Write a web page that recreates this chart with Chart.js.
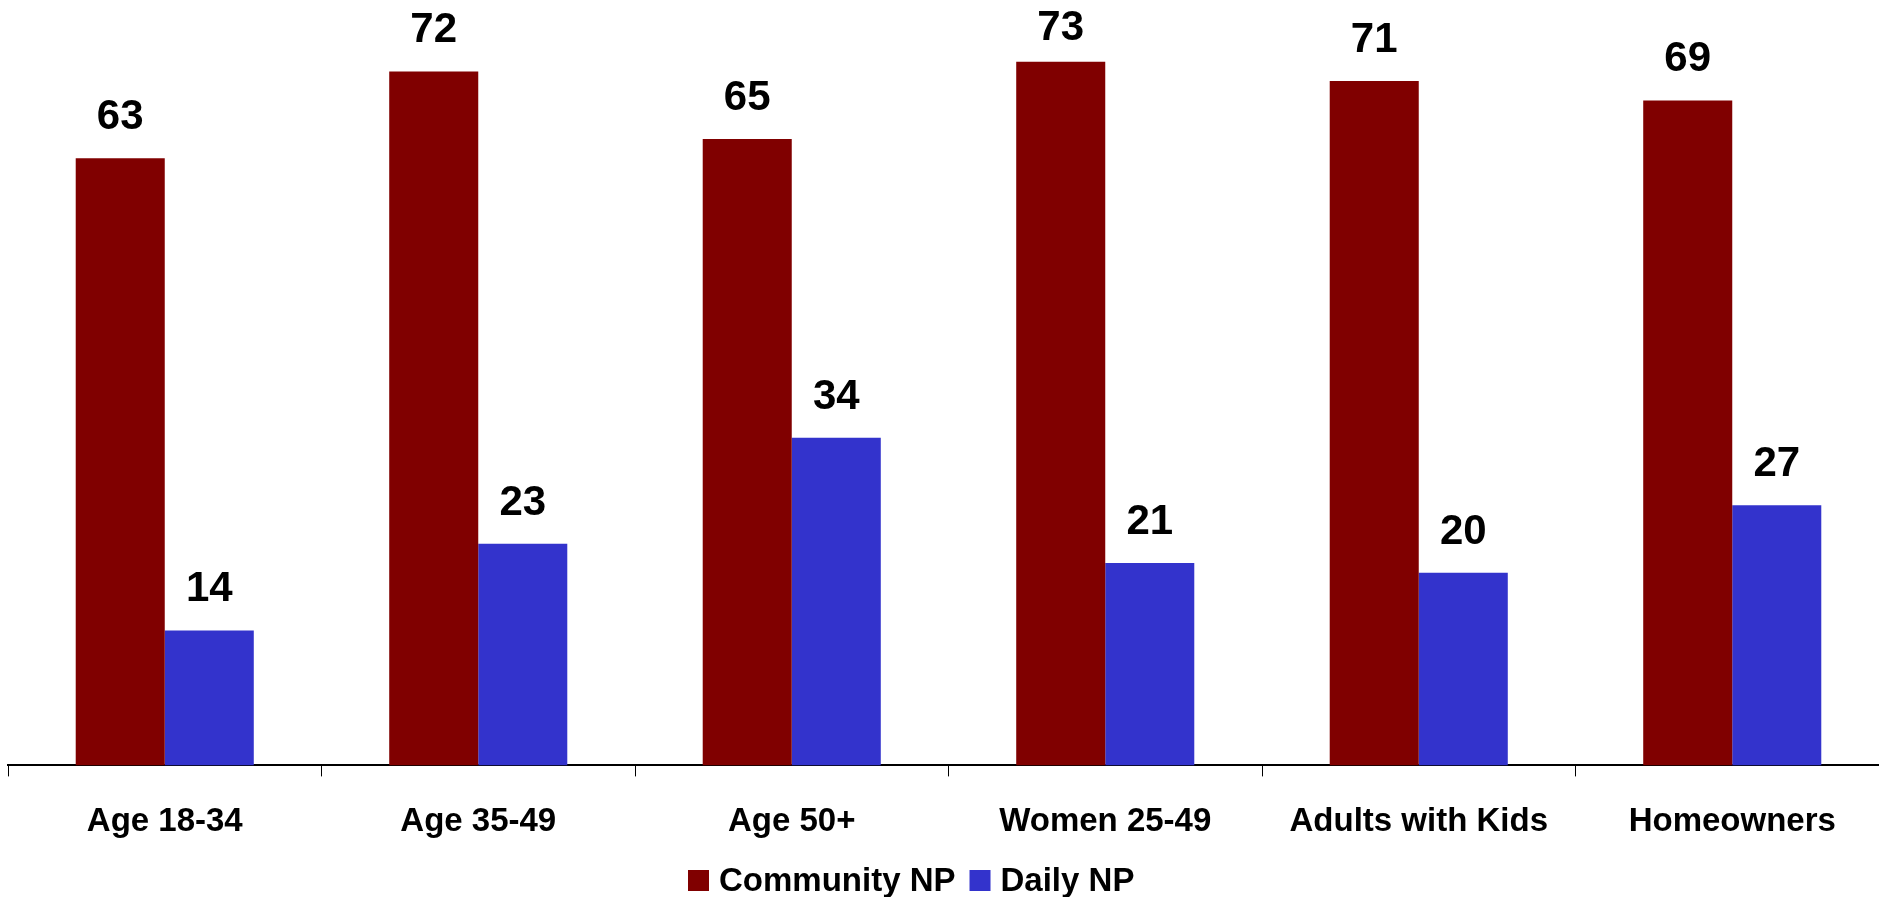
<!DOCTYPE html>
<html lang="en">
<head>
    <meta charset="UTF-8">
    <title>Community NP vs Daily NP</title>
    <script src="https://cdn.jsdelivr.net/npm/chart.js"></script>
    <style>
        html, body { margin: 0; padding: 0; background: #fff; overflow: hidden; }
        #wrap { position: absolute; left: 0; top: 0; }
    </style>
</head>
<body>
    <div id="wrap">
        <canvas id="grafico" width="1897" height="897"></canvas>
    </div>

    <script>
        // dados do grafico
        const categorias = ['Age 18-34', 'Age 35-49', 'Age 50+', 'Women 25-49', 'Adults with Kids', 'Homeowners'];
        const communityNP = [63, 72, 65, 73, 71, 69];
        const dailyNP = [14, 23, 34, 21, 20, 27];
        const nomesSeries = ['Community NP', 'Daily NP'];

        const fonte = "'Liberation Sans', Arial, sans-serif";

        // rotulos de valor acima das barras
        const rotulos = {
            id: 'rotulos',
            afterDatasetsDraw(chart) {
                const ctx = chart.ctx;
                ctx.save();
                ctx.font = 'bold 42px ' + fonte;
                ctx.fillStyle = '#000';
                ctx.textAlign = 'center';
                ctx.textBaseline = 'alphabetic';
                chart.data.datasets.forEach((ds, i) => {
                    chart.getDatasetMeta(i).data.forEach((bar, j) => {
                        let y = Math.max(bar.y - 29, 39.5);
                        ctx.fillText(ds.data[j], bar.x, y);
                    });
                });
                ctx.restore();
            }
        };

        // legenda desenhada no canvas
        const legenda = {
            id: 'legenda',
            afterDraw(chart) {
                const ctx = chart.ctx;
                ctx.save();
                ctx.font = 'bold 33px ' + fonte;
                ctx.textBaseline = 'middle';
                ctx.textAlign = 'left';
                let x = 688;
                const y = 881;
                chart.data.datasets.forEach(ds => {
                    ctx.fillStyle = ds.backgroundColor;
                    ctx.fillRect(x, y - 11, 21, 21);
                    ctx.fillStyle = '#000';
                    ctx.fillText(ds.label, x + 31, y + 1);
                    x += 31 + ctx.measureText(ds.label).width + 14;
                });
                ctx.restore();
            }
        };

        const dados = {
            labels: categorias,
            datasets: [
                {
                    label: nomesSeries[0],
                    data: communityNP,
                    backgroundColor: '#800000',
                    categoryPercentage: 0.568,
                    barPercentage: 1.0
                },
                {
                    label: nomesSeries[1],
                    data: dailyNP,
                    backgroundColor: '#3333CC',
                    categoryPercentage: 0.568,
                    barPercentage: 1.0
                }
            ]
        };

        const config = {
            type: 'bar',
            data: dados,
            options: {
                responsive: false,
                animation: false,
                devicePixelRatio: 1,
                layout: {
                    padding: { left: 8, right: 8, top: 4, bottom: 29 }
                },
                plugins: {
                    legend: { display: false },
                    tooltip: { enabled: false }
                },
                scales: {
                    x: {
                        grid: {
                            offset: true,
                            drawOnChartArea: false,
                            drawTicks: true,
                            tickLength: 11,
                            color: '#000',
                            lineWidth: 1
                        },
                        border: { display: true, color: '#000', width: 2 },
                        ticks: {
                            color: '#000',
                            padding: 26,
                            maxRotation: 0,
                            autoSkip: false,
                            font: { family: fonte, size: 33, weight: 'bold' }
                        }
                    },
                    y: {
                        display: false,
                        min: 0,
                        max: 79
                    }
                }
            },
            plugins: [rotulos, legenda]
        };

        const grafico = new Chart(document.getElementById('grafico'), config);
    </script>
</body>
</html>
